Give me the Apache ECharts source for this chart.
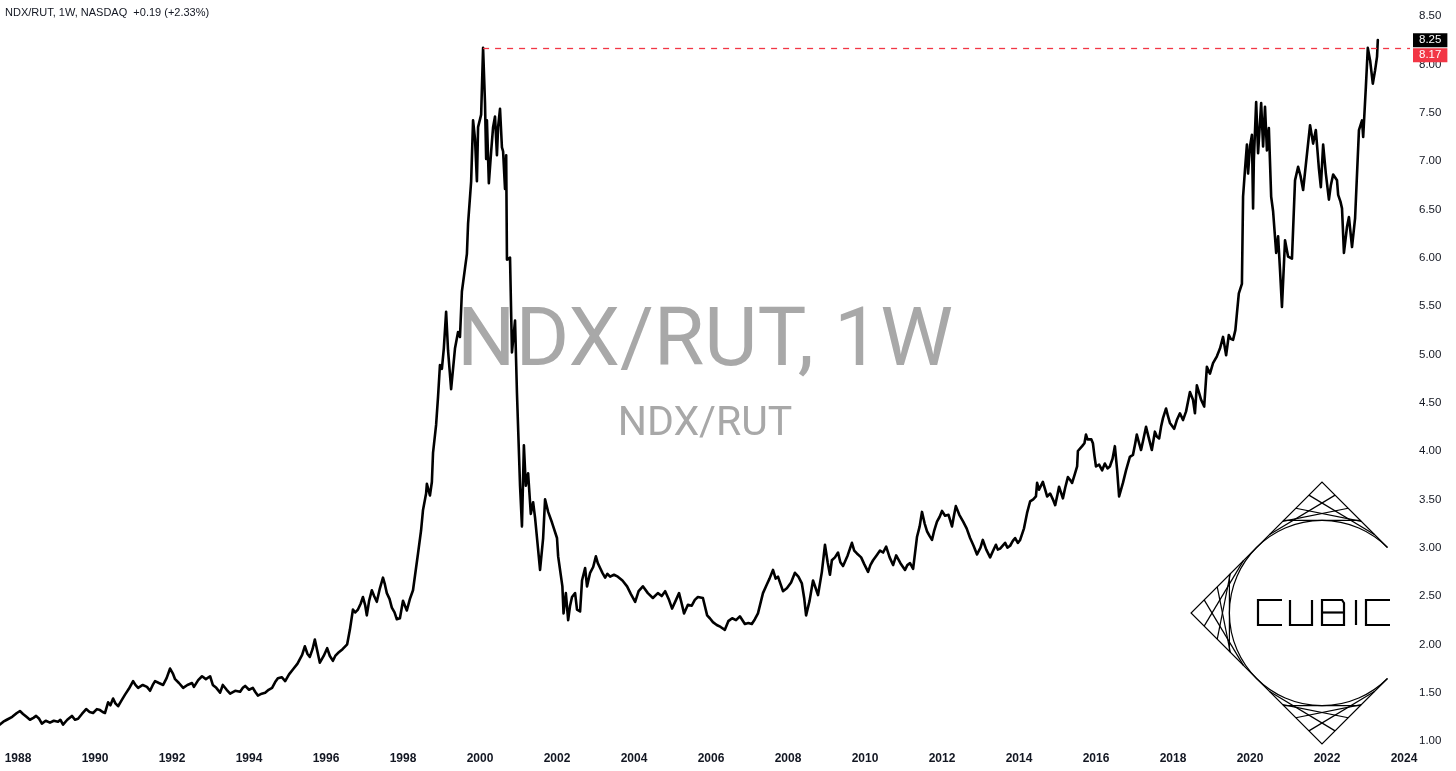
<!DOCTYPE html>
<html>
<head>
<meta charset="utf-8">
<script src="https://cdn.jsdelivr.net/npm/echarts@6/dist/echarts.min.js"></script>
<style>html,body{margin:0;padding:0;background:#fff}#c{width:1456px;height:771px}</style>
</head>
<body>
<div id="c"></div>
<script>
// ---- data (decimal year, NDX/RUT ratio) ----
const years = [
  1987.53,1987.62,1987.71,1987.85,1987.97,1988.05,1988.13,1988.22,1988.31,1988.40,
  1988.47,1988.55,1988.62,1988.72,1988.83,1988.93,1989.04,1989.10,1989.17,1989.28,
  1989.40,1989.48,1989.56,1989.66,1989.77,1989.86,1989.95,1990.05,1990.13,1990.20,
  1990.26,1990.34,1990.40,1990.47,1990.53,1990.60,1990.69,1990.78,1990.88,1990.99,
  1991.05,1991.12,1991.24,1991.35,1991.43,1991.50,1991.56,1991.66,1991.77,1991.86,
  1991.95,1992.02,1992.08,1992.18,1992.29,1992.40,1992.52,1992.57,1992.68,1992.78,
  1992.88,1992.99,1993.06,1993.15,1993.25,1993.32,1993.42,1993.51,1993.64,1993.77,
  1993.84,1993.90,1994.00,1994.10,1994.16,1994.23,1994.33,1994.42,1994.51,1994.60,
  1994.68,1994.75,1994.85,1994.94,1995.04,1995.14,1995.26,1995.38,1995.45,1995.52,
  1995.58,1995.65,1995.71,1995.78,1995.84,1995.94,1996.03,1996.10,1996.18,1996.24,
  1996.31,1996.43,1996.55,1996.62,1996.70,1996.76,1996.83,1996.90,1996.96,1997.02,
  1997.06,1997.12,1997.19,1997.25,1997.32,1997.40,1997.48,1997.53,1997.58,1997.65,
  1997.71,1997.78,1997.84,1997.92,1998.00,1998.05,1998.10,1998.18,1998.26,1998.31,
  1998.39,1998.47,1998.52,1998.60,1998.62,1998.70,1998.75,1998.78,1998.86,1998.91,
  1998.96,1999.01,1999.06,1999.12,1999.17,1999.25,1999.30,1999.35,1999.43,1999.48,
  1999.53,1999.61,1999.66,1999.69,1999.77,1999.82,1999.87,1999.92,1999.95,2000.03,
  2000.08,2000.13,2000.16,2000.18,2000.23,2000.29,2000.34,2000.39,2000.44,2000.47,
  2000.52,2000.57,2000.60,2000.65,2000.68,2000.70,2000.78,2000.83,2000.91,2000.96,
  2001.04,2001.09,2001.14,2001.19,2001.25,2001.32,2001.38,2001.43,2001.56,2001.64,
  2001.69,2001.77,2001.87,2002.00,2002.03,2002.14,2002.17,2002.23,2002.29,2002.34,
  2002.39,2002.47,2002.52,2002.60,2002.65,2002.73,2002.78,2002.86,2002.94,2003.01,
  2003.06,2003.12,2003.18,2003.25,2003.31,2003.38,2003.48,2003.58,2003.70,2003.82,
  2003.92,2004.03,2004.12,2004.23,2004.36,2004.49,2004.62,2004.72,2004.81,2004.90,
  2004.99,2005.08,2005.17,2005.24,2005.30,2005.40,2005.50,2005.58,2005.66,2005.79,
  2005.90,2005.97,2006.05,2006.15,2006.25,2006.36,2006.45,2006.55,2006.65,2006.75,
  2006.88,2006.97,2007.06,2007.14,2007.22,2007.35,2007.45,2007.52,2007.61,2007.68,
  2007.74,2007.87,2007.97,2008.08,2008.18,2008.27,2008.36,2008.42,2008.47,2008.56,
  2008.65,2008.72,2008.78,2008.88,2008.96,2009.03,2009.09,2009.14,2009.22,2009.30,
  2009.36,2009.43,2009.55,2009.66,2009.72,2009.79,2009.90,2009.98,2010.08,2010.14,
  2010.21,2010.30,2010.39,2010.47,2010.55,2010.64,2010.73,2010.81,2010.92,2011.04,
  2011.10,2011.17,2011.25,2011.35,2011.42,2011.48,2011.55,2011.61,2011.68,2011.74,
  2011.80,2011.87,2011.94,2012.00,2012.08,2012.17,2012.26,2012.31,2012.36,2012.45,
  2012.55,2012.64,2012.73,2012.82,2012.91,2013.00,2013.06,2013.15,2013.25,2013.33,
  2013.40,2013.45,2013.51,2013.64,2013.70,2013.77,2013.84,2013.90,2013.97,2014.03,
  2014.13,2014.21,2014.29,2014.37,2014.44,2014.47,2014.52,2014.57,2014.62,2014.68,
  2014.73,2014.81,2014.88,2014.94,2015.00,2015.04,2015.10,2015.14,2015.20,2015.27,
  2015.33,2015.38,2015.45,2015.51,2015.53,2015.58,2015.64,2015.70,2015.74,2015.78,
  2015.82,2015.88,2015.92,2015.96,2016.00,2016.08,2016.16,2016.23,2016.30,2016.36,
  2016.43,2016.49,2016.55,2016.60,2016.65,2016.70,2016.78,2016.88,2016.96,2017.02,
  2017.06,2017.12,2017.17,2017.23,2017.30,2017.38,2017.45,2017.53,2017.58,2017.64,
  2017.69,2017.74,2017.82,2017.87,2017.92,2018.03,2018.10,2018.18,2018.26,2018.34,
  2018.44,2018.52,2018.57,2018.62,2018.68,2018.73,2018.81,2018.88,2018.96,2019.04,
  2019.09,2019.14,2019.22,2019.30,2019.38,2019.45,2019.50,2019.56,2019.62,2019.66,
  2019.71,2019.79,2019.82,2019.87,2019.92,2019.95,2020.00,2020.05,2020.08,2020.10,
  2020.16,2020.21,2020.29,2020.34,2020.39,2020.44,2020.49,2020.55,2020.60,2020.68,
  2020.73,2020.78,2020.83,2020.91,2020.99,2021.09,2021.17,2021.25,2021.31,2021.38,
  2021.45,2021.56,2021.64,2021.71,2021.79,2021.84,2021.90,2021.97,2022.05,2022.10,
  2022.16,2022.26,2022.29,2022.35,2022.39,2022.44,2022.52,2022.57,2022.65,2022.73,
  2022.78,2022.83,2022.91,2022.94,2023.01,2023.06,2023.12,2023.19,2023.25,2023.30,
  2023.32
];
const ratio = [
  1.17,1.20,1.22,1.25,1.29,1.31,1.28,1.25,1.22,1.24,
  1.26,1.23,1.18,1.21,1.19,1.21,1.20,1.22,1.17,1.22,
  1.26,1.22,1.23,1.28,1.33,1.30,1.29,1.33,1.32,1.30,
  1.29,1.40,1.37,1.44,1.39,1.36,1.42,1.48,1.54,1.62,
  1.58,1.55,1.58,1.56,1.52,1.58,1.62,1.60,1.58,1.65,
  1.75,1.70,1.64,1.60,1.55,1.58,1.60,1.56,1.63,1.67,
  1.64,1.67,1.58,1.55,1.50,1.58,1.53,1.49,1.52,1.51,
  1.55,1.57,1.53,1.55,1.51,1.47,1.49,1.50,1.53,1.55,
  1.61,1.65,1.66,1.62,1.69,1.74,1.80,1.89,1.98,1.90,
  1.87,1.95,2.05,1.92,1.81,1.88,1.96,1.88,1.83,1.88,
  1.91,1.95,2.00,2.15,2.36,2.33,2.36,2.42,2.49,2.40,
  2.30,2.45,2.56,2.50,2.44,2.58,2.69,2.62,2.53,2.47,
  2.38,2.33,2.26,2.27,2.45,2.40,2.35,2.47,2.56,2.58,
  2.94,3.18,3.39,3.56,3.66,3.54,3.68,3.98,4.27,4.56,
  4.89,4.85,5.06,5.44,5.04,4.64,4.62,5.06,5.23,5.18,
  5.65,5.89,6.04,6.35,6.79,7.42,7.23,6.79,7.35,7.48,
  8.17,7.60,7.02,7.42,6.77,7.10,7.35,7.46,7.06,7.35,
  7.54,7.14,7.10,6.71,7.06,5.98,6.00,5.02,5.35,4.60,
  3.64,3.22,4.06,3.64,3.77,3.35,3.47,3.31,2.77,3.10,
  3.50,3.37,3.26,3.10,2.91,2.60,2.32,2.53,2.25,2.40,
  2.49,2.53,2.36,2.34,2.66,2.79,2.60,2.74,2.80,2.91,
  2.84,2.79,2.74,2.69,2.73,2.70,2.72,2.70,2.66,2.60,
  2.52,2.44,2.55,2.60,2.53,2.48,2.53,2.50,2.55,2.47,
  2.37,2.45,2.53,2.42,2.32,2.41,2.40,2.46,2.49,2.48,
  2.30,2.27,2.23,2.20,2.18,2.15,2.24,2.27,2.25,2.29,
  2.21,2.22,2.21,2.26,2.32,2.53,2.62,2.68,2.77,2.68,
  2.70,2.55,2.58,2.64,2.74,2.70,2.63,2.48,2.30,2.45,
  2.66,2.58,2.51,2.75,3.03,2.85,2.72,2.87,2.90,2.95,
  2.85,2.81,2.92,3.05,2.97,2.94,2.90,2.83,2.75,2.82,
  2.87,2.92,2.97,2.95,3.01,2.90,2.82,2.92,2.84,2.77,
  2.82,2.84,2.78,3.11,3.22,3.37,3.25,3.17,3.12,3.08,
  3.18,3.27,3.32,3.38,3.33,3.34,3.22,3.33,3.43,3.34,
  3.27,3.20,3.10,3.02,2.93,3.00,3.08,2.98,2.90,2.97,
  3.03,2.98,2.99,3.05,3.00,3.02,3.07,3.10,3.05,3.08,
  3.20,3.36,3.48,3.50,3.53,3.67,3.60,3.58,3.68,3.60,
  3.53,3.56,3.50,3.44,3.55,3.63,3.56,3.51,3.62,3.73,
  3.70,3.67,3.76,3.84,4.00,3.98,4.05,4.08,4.17,4.12,
  4.10,4.12,4.08,3.95,3.84,3.86,3.80,3.87,3.82,3.84,
  3.92,4.05,3.80,3.53,3.60,3.67,3.80,3.94,3.96,4.08,
  4.17,4.08,4.01,4.12,4.25,4.12,4.01,4.20,4.15,4.13,
  4.25,4.34,4.44,4.36,4.29,4.23,4.32,4.39,4.32,4.41,
  4.61,4.53,4.39,4.68,4.60,4.53,4.46,4.87,4.80,4.91,
  4.93,4.98,5.06,5.18,4.99,5.20,5.16,5.15,5.25,5.42,
  5.63,5.73,6.63,6.91,7.17,6.87,7.15,7.27,6.51,7.01,
  7.61,7.08,7.60,7.15,7.56,7.11,7.34,6.63,6.48,6.05,
  6.22,5.87,5.49,6.18,6.01,5.99,6.80,6.94,6.85,6.70,
  6.96,7.37,7.18,7.32,6.92,6.73,7.17,6.87,6.60,6.75,
  6.86,6.80,6.65,6.58,6.51,6.05,6.32,6.42,6.11,6.41,
  6.39,7.32,7.42,7.25,7.77,8.17,8.04,7.80,7.94,8.08,
  8.25
];
const yearTicks = [1988,1990,1992,1994,1996,1998,2000,2002,2004,2006,2008,2010,2012,2014,2016,2018,2020,2022,2024];
const priceTicks = [1.0,1.5,2.0,2.5,3.0,3.5,4.0,4.5,5.0,5.5,6.0,6.5,7.0,7.5,8.0,8.5];
const athYear = 2000.08;
const athLevel = 8.17;
const lastValue = ratio[ratio.length - 1];
const headerText = 'NDX/RUT, 1W, NASDAQ  +0.19 (+2.33%)';
const watermarkMain = 'NDX/RUT, 1W';
const watermarkSub = 'NDX/RUT';
const logoText = ['C','U','B','I','C'];

// ---- view ranges ----
const X_MIN = 1987.5325, X_MAX = 2024.156;
const Y_MIN = 0.9071, Y_MAX = 8.6655;

const TXT = '#131722';
const RED = '#f23645';

// ---- logo (decoration) ----
function buildLogo() {
  const els = [];
  const cx = 1322, cy = 613, r = 92.6, h = r * Math.SQRT2;
  const T = [cx, cy - h], L = [cx - h, cy], B = [cx, cy + h], R = [cx + h, cy];
  const mid = (p, q) => [(p[0] + q[0]) / 2, (p[1] + q[1]) / 2];
  const lerp = (p, q, f) => [p[0] + (q[0] - p[0]) * f, p[1] + (q[1] - p[1]) * f];
  const mTR = mid(T, R), mTL = mid(T, L), mLB = mid(L, B), mBR = mid(B, R);
  const st = { stroke: '#000', lineWidth: 1.2, fill: null };
  els.push({ type: 'polyline', id: 'lg-edge', shape: { points: [mTR, T, L, B, mBR] }, style: st, silent: true });
  els.push({ type: 'arc', id: 'lg-arc', shape: { cx, cy, r, startAngle: -Math.PI / 4, endAngle: Math.PI / 4, clockwise: false }, style: st, silent: true });
  const corners = [[T, mTL, mTR], [L, mTL, mLB], [B, mLB, mBR]];
  const n = 5;
  corners.forEach((c, ci) => {
    const [V, A, Bp] = c;
    for (let i = 1; i < n; i++) {
      const p = lerp(V, A, i / n), q = lerp(V, Bp, 1 - i / n);
      els.push({ type: 'line', id: 'lg-s' + ci + '-' + i, shape: { x1: p[0], y1: p[1], x2: q[0], y2: q[1] }, style: st, silent: true });
    }
    const f = 2 - Math.SQRT2;
    const p1 = lerp(V, A, f), p2 = lerp(V, Bp, f);
    els.push({ type: 'line', id: 'lg-c' + ci, shape: { x1: p1[0], y1: p1[1], x2: p2[0], y2: p2[1] }, style: st, silent: true });
  });
  // squared "CUBIC" letters
  const top = 600, bot = 625, w = 24;
  const ls = { stroke: '#000', lineWidth: 2.2, fill: null, lineJoin: 'miter' };
  const starts = [1258, 1290, 1322, 1356, 1366];
  logoText.forEach((ch, i) => {
    const x = starts[i];
    let pts;
    if (ch === 'C') pts = [[x + w, top], [x, top], [x, bot], [x + w, bot]];
    else if (ch === 'U') pts = [[x, top], [x, bot], [x + w - 2, bot], [x + w - 2, top]];
    else if (ch === 'I') pts = [[x, top], [x, bot]];
    if (ch === 'B') {
      els.push({ type: 'polygon', id: 'lg-B', shape: { points: [[x, top], [x + w - 4, top], [x + w - 2, top + 3], [x + w - 2, bot], [x, bot]] }, style: ls, silent: true });
      els.push({ type: 'line', id: 'lg-Bm', shape: { x1: x, y1: (top + bot) / 2, x2: x + w - 2, y2: (top + bot) / 2 }, style: ls, silent: true });
    } else {
      els.push({ type: 'polyline', id: 'lg-t' + i, shape: { points: pts }, style: ls, silent: true });
    }
  });
  return els;
}

const chart = echarts.init(document.getElementById('c'), null, { renderer: 'canvas' });
const option = {
  animation: false,
  backgroundColor: '#fff',
  grid: { left: 0, right: 46, top: 0, bottom: 21, containLabel: false },
  xAxis: {
    type: 'value', min: X_MIN, max: X_MAX,
    axisLine: { show: false }, axisTick: { show: false }, splitLine: { show: false },
    axisLabel: {
      customValues: yearTicks, formatter: v => String(Math.round(v)),
      color: TXT, fontSize: 12, fontWeight: 'bold', fontFamily: 'Liberation Sans', margin: 3,
      showMinLabel: true, showMaxLabel: true
    }
  },
  yAxis: {
    type: 'value', position: 'right', min: Y_MIN, max: Y_MAX,
    axisLine: { show: false }, axisTick: { show: false }, splitLine: { show: false },
    axisLabel: {
      customValues: priceTicks, formatter: v => v.toFixed(2),
      color: TXT, fontSize: 11.5, fontFamily: 'Liberation Sans', margin: 9
    }
  },
  series: [{
    type: 'line',
    data: years.map((t, i) => [t, ratio[i]]),
    showSymbol: false, symbol: 'none', silent: true, z: 3,
    lineStyle: { color: '#000', width: 2.6, join: 'round', cap: 'round' },
    markLine: {
      silent: true, symbol: ['none', 'none'], animation: false,
      label: { show: false },
      lineStyle: { color: RED, width: 1.3, type: [6, 6] },
      data: [[{ coord: [athYear, athLevel] }, { coord: [X_MAX, athLevel] }]]
    }
  }],
  graphic: { elements: [
    { type: 'text', id: 'hdr', x: 5, y: 13, silent: true,
      style: { text: headerText, fill: TXT, font: '11px "Liberation Sans"', verticalAlign: 'middle', align: 'left' } },
    { type: 'text', id: 'wm1', x: 705, y: 344, z: -1, silent: true,
      style: { text: watermarkMain, fill: '#a8a8a8', font: '82px Roboto', verticalAlign: 'middle', align: 'center' } },
    { type: 'text', id: 'wm2', x: 705, y: 425, z: -1, silent: true,
      style: { text: watermarkSub, fill: '#a8a8a8', font: '41px Roboto', verticalAlign: 'middle', align: 'center' } }
  ].concat(buildLogo()) }
};
chart.setOption(option);

// price tags on the right scale
const xRight = chart.convertToPixel({ xAxisIndex: 0 }, X_MAX);
const yLast = chart.convertToPixel({ yAxisIndex: 0 }, lastValue);
const yAth = Math.max(chart.convertToPixel({ yAxisIndex: 0 }, athLevel), yLast + 15);
chart.setOption({ graphic: { elements: [
  { type: 'text', id: 'tagAth', x: xRight + 3, y: yAth, z: 10, silent: true,
    style: { text: athLevel.toFixed(2), fill: '#fff', backgroundColor: RED, padding: [1, 6, 1, 6], font: '11.5px "Liberation Sans"', verticalAlign: 'middle', align: 'left' } },
  { type: 'text', id: 'tagLast', x: xRight + 3, y: yLast, z: 10, silent: true,
    style: { text: lastValue.toFixed(2), fill: '#fff', backgroundColor: '#000', padding: [1, 6, 1, 6], font: '11.5px "Liberation Sans"', verticalAlign: 'middle', align: 'left' } }
] } });
</script>
</body>
</html>
